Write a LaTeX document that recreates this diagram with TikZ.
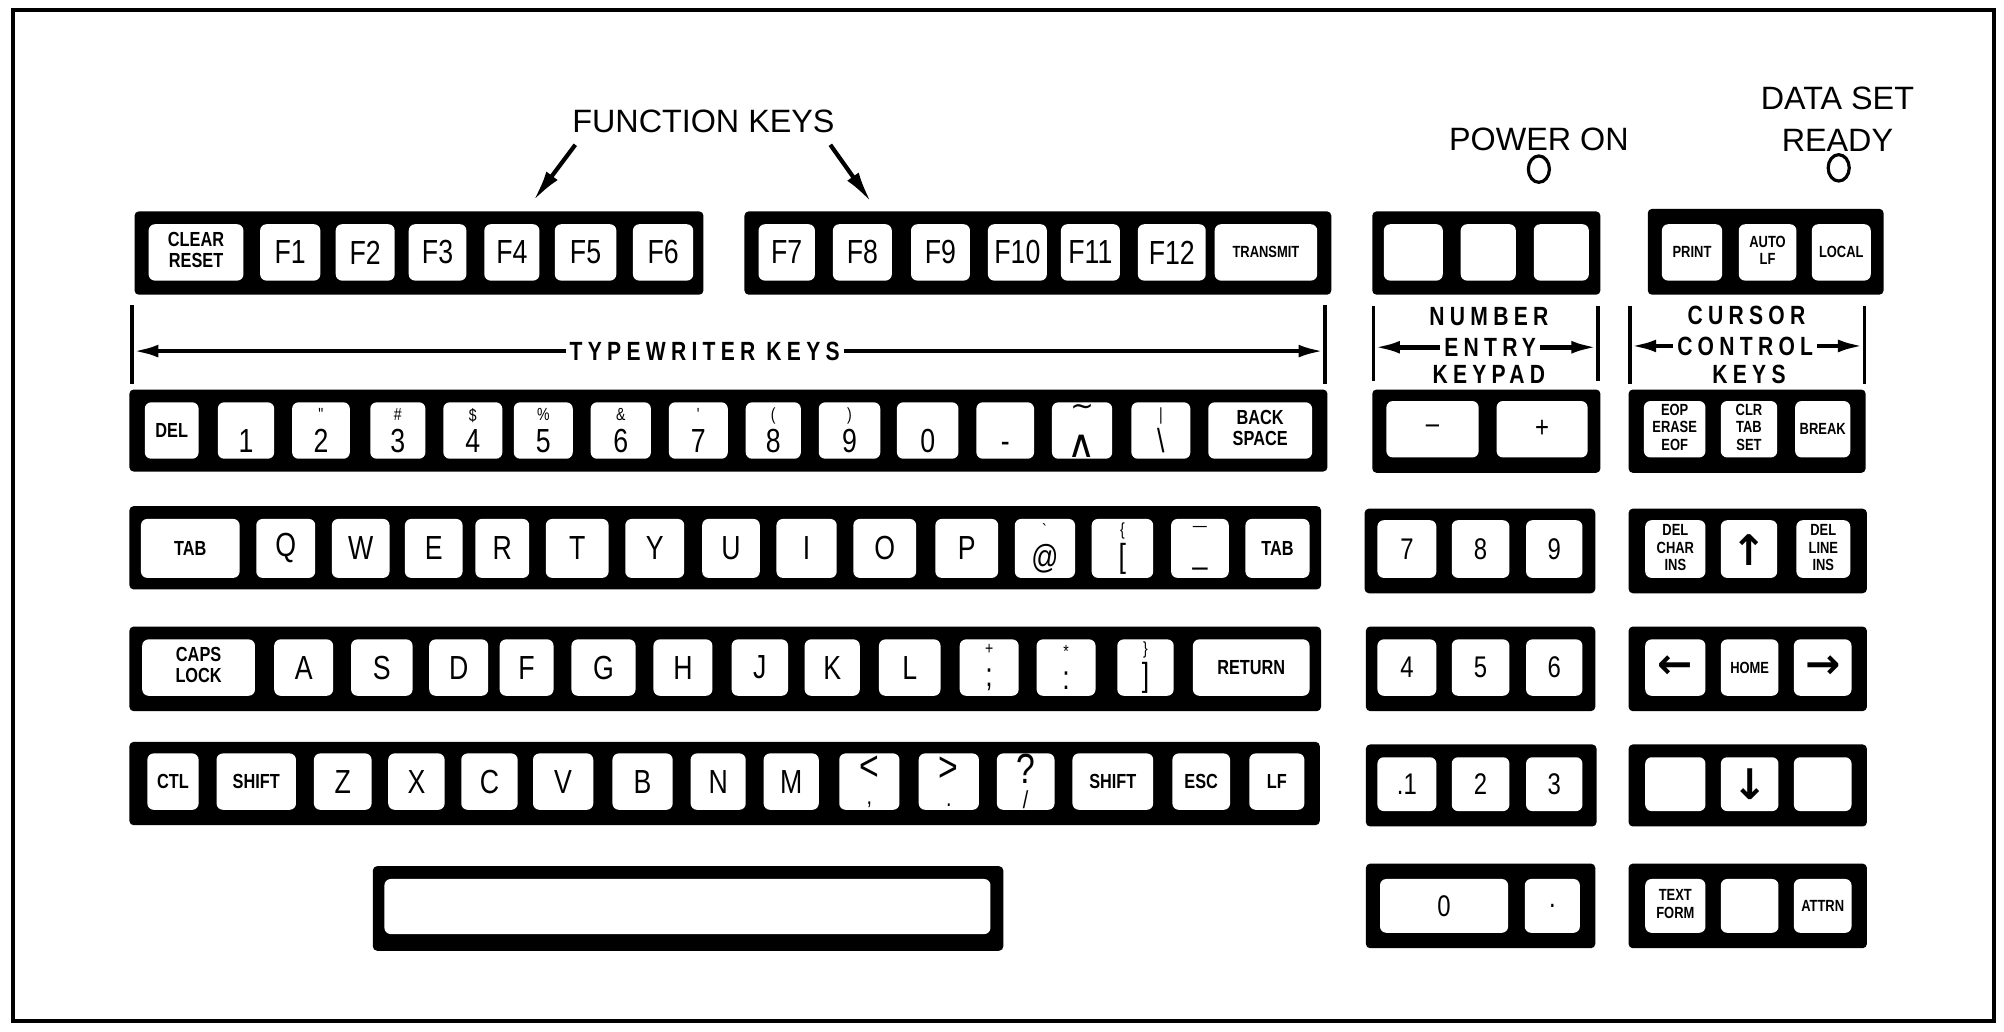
\documentclass[tikz,border=0pt]{standalone}
\usepackage{fontspec}
\setmainfont{Liberation Sans}
\newfontfamily\keyfont{Liberation Sans}[FakeStretch=0.8]
\newfontfamily\tagfont{Liberation Sans}[FakeStretch=0.8,LetterSpace=20]
\newfontfamily\symfont{DejaVu Sans}
\usetikzlibrary{arrows.meta,shapes.geometric}

% small and tiny key legends, stacked legends, two-legend keys
\newcommand{\ks}{\bfseries\fontsize{5.8}{6}\selectfont}
\newcommand{\kt}{\bfseries\fontsize{4.6}{5}\selectfont}
\newcommand{\kstack}[1]{\begin{tabular}{@{}c@{}}#1\end{tabular}}
\newcommand{\dual}[2]{{\fontsize{5}{5}\selectfont #1}\\[-1pt]#2}
\newcommand{\updual}[2]{{\fontsize{12}{10}\selectfont #1}\\[-3pt]{\fontsize{7}{7}\selectfont #2}}
\newcommand{\karrow}[1]{{\symfont\bfseries\fontsize{12}{12}\selectfont #1}}

\tikzset{
  keybar/.style={fill=black, rounded corners=1.2pt},
  keycap/.style={fill=white, rounded corners=1.8pt},
  keylabel/.style={font=\keyfont\fontsize{9.5}{10}\selectfont, align=center, inner sep=0pt},
  padlabel/.style={keylabel, font=\keyfont\fontsize{8.5}{9}\selectfont},
  heading/.style={font=\fontsize{9.2}{11.7}\selectfont, align=center, inner sep=0pt},
  grouptag/.style={font=\tagfont\bfseries\fontsize{7.5}{8}\selectfont, inner sep=1pt},
  tagbar/.style={line width=1pt},
  tagarrow/.style={line width=1.3pt, -{Latex[length=7.5pt,width=3.6pt]}},
  fkpointer/.style={line width=1.2pt, -{Latex[length=9pt,width=4pt]}},
  ledlamp/.style={draw, ellipse, line width=0.9pt, minimum width=6pt, minimum height=7.5pt, inner sep=0pt}
}

\begin{document}
\begin{tikzpicture}[x=0.012813cm, y=-0.012813cm]
  \useasboundingbox (0,0) rectangle (1564,805.4);
  % frame
  \draw[line width=1.1pt] (10,8) rectangle (1556,797);

  % headings and lamps
  \node[heading] (fktitle) at (549,95) {FUNCTION KEYS};
  \node[heading] (pwrtitle) at (1201,109) {POWER ON};
  \node[ledlamp] (pwrled) at (1201,132) {};
  \node[heading] (dsrtitle) at (1434,93) {DATA SET\\READY};
  \node[ledlamp] (dsrled) at (1435,131) {};

  % pointers to the function keys
  \coordinate (fkp1) at (449,113);
  \coordinate (fkq1) at (416,157);
  \coordinate (fkp2) at (648,113);
  \coordinate (fkq2) at (680,158);
  \draw[fkpointer] (fkp1) -- (fkq1);
  \draw[fkpointer] (fkp2) -- (fkq2);

  % function keys, left block
  \fill[keybar] (105,165) rectangle (549,230);
  \foreach \a/\b/\t [count=\i] in {116/190/{\ks\kstack{CLEAR\\RESET}}, 203/250/F1, 262/308/F2,
      319/364/F3, 378/421/F4, 433/481/F5, 494/541/F6} {
    \fill[keycap] (\a,175) rectangle (\b,219);
    \node[keylabel] (fa\i) at ({(\a+\b)/2},197) {\t};
  }
  % function keys, right block
  \fill[keybar] (581,165) rectangle (1039,230);
  \foreach \a/\b/\t [count=\i] in {592/636/F7, 650/696/F8, 711/757/F9, 771/817/F10,
      828/874/F11, 888/941/F12, 948/1028/{\kt TRANSMIT}} {
    \fill[keycap] (\a,175) rectangle (\b,219);
    \node[keylabel] (fb\i) at ({(\a+\b)/2},197) {\t};
  }

  % typewriter keys span
  \draw[tagbar] (103,238) -- (103,300);
  \draw[tagbar] (1034,238) -- (1034,300);
  \node[grouptag] (twtag) at (550,274) {TYPEWRITER KEYS};
  \coordinate (twl) at (103,274);
  \coordinate (twr) at (1034,274);
  \draw[tagarrow] (twtag.west) -- (twl);
  \draw[tagarrow] (twtag.east) -- (twr);

  % typewriter keys, number row
  \fill[keybar] (101,304) rectangle (1036,368);
  \foreach \a/\b/\t [count=\i] in {113/155/{\ks DEL}, 170/214/{\dual{\phantom{!}}{1}},
      228/273/{\dual{"}{2}}, 289/332/{\dual{\#}{3}}, 346/392/{\dual{\$}{4}},
      401/447/{\dual{\%}{5}}, 461/508/{\dual{\&}{6}}, 522/568/{\dual{'}{7}},
      582/625/{\dual{(}{8}}, 639/687/{\dual{)}{9}}, 700/748/{\dual{\phantom{!}}{0}},
      762/807/{\dual{\phantom{!}}{-}},
      821/868/{{\symfont\fontsize{8}{8}\selectfont ∼}\\[2pt]{\symfont\fontsize{11}{11}\selectfont ∧}},
      883/929/{\dual{|}{\textbackslash}}, 943/1024/{\ks\kstack{BACK\\SPACE}}} {
    \fill[keycap] (\a,314) rectangle (\b,358);
    \node[keylabel] (tw2-\i) at ({(\a+\b)/2},336) {\t};
  }
  % typewriter keys, top letter row
  \fill[keybar] (101,395) rectangle (1031,460);
  \foreach \a/\b/\t [count=\i] in {110/187/{\ks TAB}, 200/246/Q, 259/304/W, 316/361/E,
      371/413/R, 426/475/T, 488/534/Y, 548/593/U, 606/653/I, 666/715/O, 730/779/P,
      792/839/{\dual{\textasciigrave}{@}}, 852/900/{\dual{\{}{[}},
      914/959/{\dual{\textemdash}{\_}}, 972/1022/{\ks TAB}} {
    \fill[keycap] (\a,405) rectangle (\b,451);
    \node[keylabel] (tw3-\i) at ({(\a+\b)/2},428) {\t};
  }
  % typewriter keys, home row
  \fill[keybar] (101,489) rectangle (1031,555);
  \foreach \a/\b/\t [count=\i] in {111/199/{\ks\kstack{CAPS\\LOCK}}, 214/260/A, 274/322/S,
      335/381/D, 390/432/F, 446/496/G, 510/556/H, 571/615/J, 628/671/K, 686/734/L,
      749/795/{\dual{+}{;}}, 809/855/{\dual{*}{:}}, 872/916/{\dual{\}}{]}},
      931/1022/{\ks RETURN}} {
    \fill[keycap] (\a,499) rectangle (\b,543);
    \node[keylabel] (tw4-\i) at ({(\a+\b)/2},521) {\t};
  }
  % typewriter keys, bottom row
  \fill[keybar] (101,579) rectangle (1030,644);
  \foreach \a/\b/\t [count=\i] in {115/155/{\ks CTL}, 169/231/{\ks SHIFT}, 245/290/Z,
      303/347/X, 360/404/C, 416/463/V, 478/525/B, 539/582/N, 596/639/M,
      655/702/{\updual{<}{,}}, 717/764/{\updual{>}{.}}, 778/823/{\updual{?}{/}},
      837/900/{\ks SHIFT}, 915/960/{\ks ESC}, 975/1018/{\ks LF}} {
    \fill[keycap] (\a,588) rectangle (\b,632);
    \node[keylabel] (tw5-\i) at ({(\a+\b)/2},610) {\t};
  }
  % space bar
  \fill[keybar] (291,676) rectangle (783,742);
  \fill[keycap] (300,686) rectangle (773,729);

  % number entry keypad span
  \draw[tagbar] (1072,239) -- (1072,297);
  \draw[tagbar] (1247,239) -- (1247,297);
  \node[grouptag] (numtop) at (1162,247) {NUMBER};
  \node[grouptag] (nummid) at (1163,271) {ENTRY};
  \node[grouptag] (numbot) at (1162,292) {KEYPAD};
  \coordinate (numl) at (1072,271);
  \coordinate (numr) at (1247,271);
  \draw[tagarrow] (nummid.west) -- (numl);
  \draw[tagarrow] (nummid.east) -- (numr);

  % number entry keypad
  \fill[keybar] (1071,165) rectangle (1249,230);
  \foreach \a/\b in {1080/1126, 1140/1183, 1197/1240}
    \fill[keycap] (\a,175) rectangle (\b,219);
  \fill[keybar] (1071,304) rectangle (1249,369);
  \foreach \a/\b/\t [count=\i] in {1082/1154/\textendash, 1168/1239/+} {
    \fill[keycap] (\a,313) rectangle (\b,357);
    \node[padlabel] (np2-\i) at ({(\a+\b)/2},335) {\t};
  }
  \fill[keybar] (1065,397) rectangle (1245,463);
  \foreach \a/\b/\t [count=\i] in {1075/1121/7, 1133/1178/8, 1191/1235/9} {
    \fill[keycap] (\a,406) rectangle (\b,451);
    \node[padlabel] (np3-\i) at ({(\a+\b)/2},429) {\t};
  }
  \fill[keybar] (1066,489) rectangle (1245,555);
  \foreach \a/\b/\t [count=\i] in {1075/1121/4, 1133/1178/5, 1191/1235/6} {
    \fill[keycap] (\a,499) rectangle (\b,543);
    \node[padlabel] (np4-\i) at ({(\a+\b)/2},521) {\t};
  }
  \fill[keybar] (1066,581) rectangle (1246,645);
  \foreach \a/\b/\t [count=\i] in {1075/1121/.1, 1133/1178/2, 1191/1235/3} {
    \fill[keycap] (\a,591) rectangle (\b,633);
    \node[padlabel] (np5-\i) at ({(\a+\b)/2},612) {\t};
  }
  \fill[keybar] (1066,674) rectangle (1245,740);
  \foreach \a/\b/\t [count=\i] in {1077/1177/0, 1190/1233/.} {
    \fill[keycap] (\a,686) rectangle (\b,728);
    \node[padlabel] (np6-\i) at ({(\a+\b)/2},707) {\t};
  }

  % cursor control keys span
  \draw[tagbar] (1272,239) -- (1272,300);
  \draw[tagbar] (1455,239) -- (1455,300);
  \node[grouptag] (curtop) at (1363,246) {CURSOR};
  \node[grouptag] (curmid) at (1362,270) {CONTROL};
  \node[grouptag] (curbot) at (1365,292) {KEYS};
  \coordinate (curl) at (1272,270);
  \coordinate (curr) at (1455,270);
  \draw[tagarrow] (curmid.west) -- (curl);
  \draw[tagarrow] (curmid.east) -- (curr);

  % cursor control keys
  \fill[keybar] (1286,163) rectangle (1470,230);
  \foreach \a/\b/\t [count=\i] in {1297/1344/{\kt PRINT}, 1357/1402/{\kt\kstack{AUTO\\LF}},
      1414/1460/{\kt LOCAL}} {
    \fill[keycap] (\a,175) rectangle (\b,219);
    \node[keylabel] (cc1-\i) at ({(\a+\b)/2},197) {\t};
  }
  \fill[keybar] (1271,304) rectangle (1456,369);
  \foreach \a/\b/\t [count=\i] in {1283/1331/{\kt\kstack{EOP\\ERASE\\EOF}},
      1343/1387/{\kt\kstack{CLR\\TAB\\SET}}, 1401/1444/{\kt BREAK}} {
    \fill[keycap] (\a,313) rectangle (\b,357);
    \node[keylabel] (cc2-\i) at ({(\a+\b)/2},335) {\t};
  }
  \fill[keybar] (1271,397) rectangle (1457,463);
  \foreach \a/\b/\t [count=\i] in {1284/1331/{\kt\kstack{DEL\\CHAR\\INS}},
      1343/1387/{\karrow{↑}}, 1402/1444/{\kt\kstack{DEL\\LINE\\INS}}} {
    \fill[keycap] (\a,406) rectangle (\b,451);
    \node[keylabel] (cc3-\i) at ({(\a+\b)/2},429) {\t};
  }
  \fill[keybar] (1271,489) rectangle (1457,555);
  \foreach \a/\b/\t [count=\i] in {1284/1331/{\karrow{←}},
      1343/1388/{\kt HOME}, 1400/1445/{\karrow{→}}} {
    \fill[keycap] (\a,499) rectangle (\b,543);
    \node[keylabel] (cc4-\i) at ({(\a+\b)/2},521) {\t};
  }
  \fill[keybar] (1271,581) rectangle (1457,645);
  \foreach \a/\b in {1284/1331, 1343/1388, 1400/1445}
    \fill[keycap] (\a,591) rectangle (\b,633);
  \node[keylabel] (cc5-2) at (1365.5,612) {\karrow{↓}};
  \fill[keybar] (1271,674) rectangle (1457,740);
  \foreach \a/\b in {1284/1331, 1343/1388, 1400/1445}
    \fill[keycap] (\a,686) rectangle (\b,728);
  \node[keylabel] (cc6-1) at (1307.5,707) {\kt\kstack{TEXT\\FORM}};
  \node[keylabel] (cc6-3) at (1422.5,707) {\kt ATTRN};
\end{tikzpicture}
\end{document}
